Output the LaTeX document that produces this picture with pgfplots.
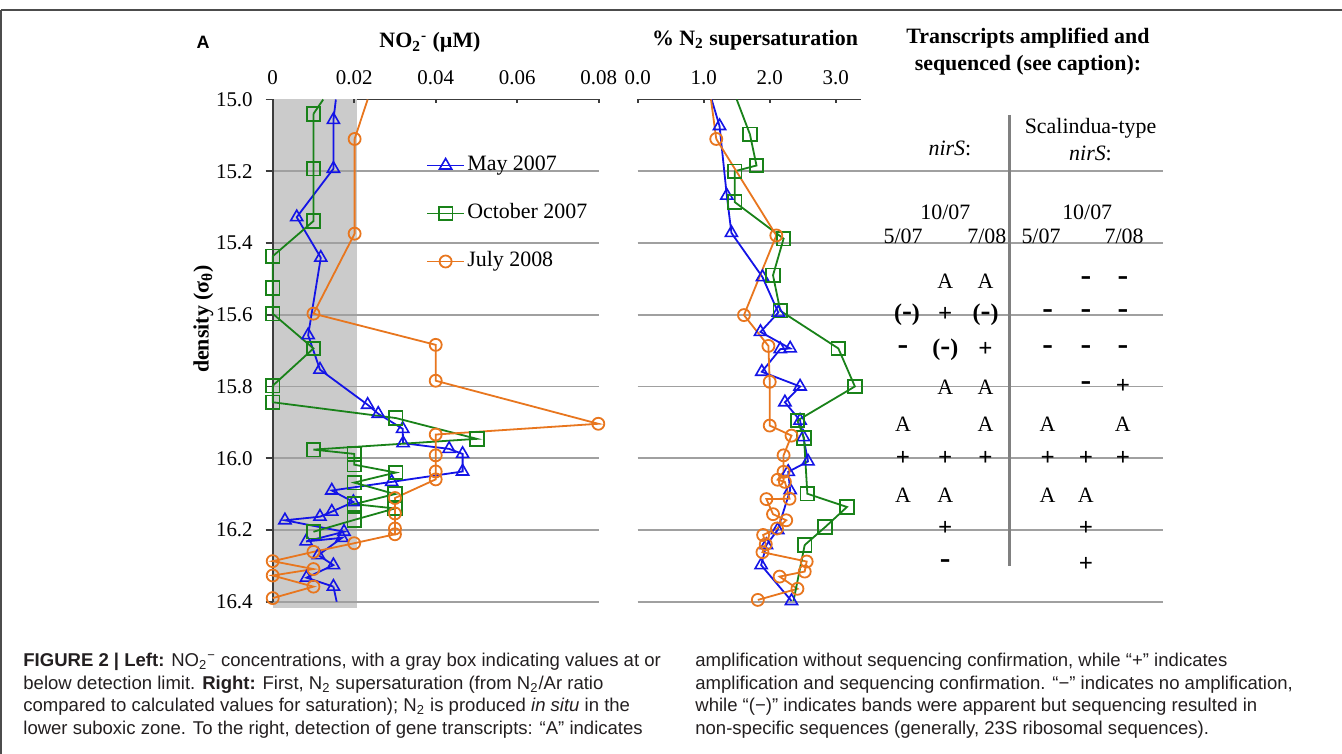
\documentclass[border=0pt]{standalone}
\usepackage{pgfplots}
\pgfplotsset{compat=1.18}
\usepackage{fontspec}
\setmainfont{Liberation Serif}
\newfontfamily\capfont{Liberation Sans}
\definecolor{nblue}{RGB}{20,20,230}
\definecolor{ngreen}{RGB}{25,130,25}
\definecolor{norange}{RGB}{232,118,30}
\definecolor{gbox}{RGB}{203,203,203}
\definecolor{gline}{RGB}{160,160,160}
\definecolor{axl}{RGB}{60,60,60}
\definecolor{captxt}{RGB}{35,31,32}
\pgfplotsset{
  sblue/.style={nblue, line width=0.9bp, mark=triangle, mark size=3.5bp, mark options={solid, line width=0.8bp, fill=white}},
  sgreen/.style={ngreen, line width=0.9bp, mark=square, mark size=3.4bp, mark options={solid, line width=0.9bp, fill=white}},
  sorange/.style={norange, line width=0.9bp, mark=o, mark size=3bp, mark options={solid, line width=0.9bp, fill=white}},
  tail/.style={line width=0.9bp, no marks, forget plot},
  panel/.style={
    scale only axis, height=251.1bp, ymin=15, ymax=16.4, y dir=reverse, clip=false,
    axis x line*=top,
    axis line style={line width=0.9bp, axl},
    xtick style={draw=none},
    scaled x ticks=false,
    ticklabel style={font=\fontsize{10.5}{12}\selectfont},
    /pgf/number format/assume math mode=true,
  },
}
\newcommand{\mi}{\textbf{\fontsize{16}{16}\selectfont -}}
\newcommand{\pmi}{\textbf{\fontsize{12}{12}\selectfont (\fontsize{15}{15}\selectfont-\fontsize{12}{12}\selectfont)}}
\newcommand{\pl}{\textbf{\fontsize{12.5}{13}\selectfont +}}
\begin{document}
\begin{tikzpicture}
\useasboundingbox (0,0) rectangle (671bp,377bp);
\fill[white] (0,0) rectangle (671bp,377bp);

% ---------------- left panel: NO2- ----------------
\begin{axis}[panel,
  at={(136.35bp,76.15bp)}, anchor=south west, width=163bp,
  xmin=0, xmax=0.08,
  axis y line*=left,
  xtick={0,0.02,0.04,0.06,0.08}, xticklabels={0,0.02,0.04,0.06,0.08},
  ytick={15,15.2,15.4,15.6,15.8,16.0,16.2,16.4},
  yticklabels={15.0,15.2,15.4,15.6,15.8,16.0,16.2,16.4},
  ytick style={line width=0.9bp, axl},
  tick align=center, major tick length=7bp,
  yticklabel style={xshift=-3bp},
  xticklabel style={yshift=0.5bp},
  legend cell align=left,
  legend style={draw=none, fill=none, at={(axis cs:0.0376,15.155)}, anchor=north west,
    font=\fontsize{11}{13}\selectfont, row sep=14bp, inner sep=0pt,
    nodes={inner sep=0pt, text height=7.5bp, text depth=2.5bp}, column sep=1.2bp},
  legend image code/.code={\draw[mark repeat=2,mark phase=2,#1] plot coordinates {(0bp,0bp)(9.2bp,0bp)(18.4bp,0bp)};},
]
\fill[gbox] (axis cs:0,15) rectangle (axis cs:0.0206,16.418);
\pgfplotsinvokeforeach{15.2,15.4,15.6,15.8,16.0,16.2,16.4}{\draw[gline, line width=0.8bp] (axis cs:0,#1) -- (axis cs:0.08,#1);}
\draw[axl, line width=0.9bp] (axis cs:0,15) -- (axis cs:0,16.4);
\pgfplotsinvokeforeach{0,0.02,0.04,0.06,0.08}{\draw[axl, line width=0.9bp] (axis cs:#1,15) -- (axis cs:#1,15.011);}
% May 2007
\addplot[sblue] coordinates {
(0.0149,15.057) (0.0149,15.193) (0.0059,15.328) (0.0118,15.441) (0.0087,15.657)
(0.0116,15.753) (0.0233,15.851) (0.0259,15.876) (0.0319,15.918) (0.0320,15.958)
(0.0433,15.974) (0.0466,15.988) (0.0466,16.037) (0.0292,16.066) (0.0145,16.090)
(0.0198,16.122) (0.0145,16.149) (0.0116,16.163) (0.0030,16.173) (0.0175,16.205)
(0.0082,16.232) (0.0170,16.222) (0.0112,16.270) (0.0149,16.298) (0.0083,16.333)
(0.0149,16.358)};
\addlegendentry{May 2007}
% October 2007
\addplot[sgreen] coordinates {
(0.0100,15.040) (0.0100,15.193) (0.0100,15.339) (0.0000,15.437) (0.0000,15.525)
(0.0000,15.597) (0.0100,15.694) (0.0000,15.798) (0.0000,15.844) (0.0302,15.888)
(0.0501,15.946) (0.0100,15.976) (0.0200,15.988) (0.0200,16.018) (0.0302,16.040)
(0.0200,16.068) (0.0300,16.100) (0.0200,16.128) (0.0300,16.140) (0.0200,16.172)
(0.0100,16.205)};
\addlegendentry{October 2007}
% July 2008
\addplot[sorange] coordinates {
(0.0201,15.110) (0.0201,15.374) (0.0100,15.597) (0.0400,15.684) (0.0400,15.784)
(0.0799,15.904) (0.0400,15.934) (0.0400,15.992) (0.0400,16.037) (0.0400,16.059)
(0.0300,16.111) (0.0300,16.154) (0.0300,16.196) (0.0300,16.212) (0.0200,16.237)
(0.0100,16.261) (0.0000,16.287) (0.0100,16.309) (0.0000,16.327) (0.0100,16.358)
(0.0000,16.390)};
\addlegendentry{July 2008}
\addplot[tail, nblue] coordinates {(0.0155,15.0) (0.0149,15.057)};
\addplot[tail, nblue] coordinates {(0.0149,16.358) (0.0157,16.40)};
\addplot[tail, ngreen] coordinates {(0.0124,15.0) (0.0100,15.040)};
\addplot[tail, norange] coordinates {(0.0233,15.0) (0.0201,15.110)};
\end{axis}

% ---------------- middle panel: N2 supersaturation ----------------
\begin{axis}[panel,
  at={(318.85bp,76.15bp)}, anchor=south west, width=111.65bp,
  xmin=0, xmax=3.383,
  axis y line=none, ytick=\empty,
  xtick={0,1,2,3}, xticklabels={0.0,1.0,2.0,3.0},
  tick align=center, major tick length=7bp,
  xticklabel style={yshift=0.5bp},
]
\pgfplotsinvokeforeach{15.2,15.4,15.6,15.8,16.0,16.2,16.4}{\draw[gline, line width=0.8bp] (axis cs:0,#1) -- (axis cs:7.96,#1);}
\pgfplotsinvokeforeach{0,1,2,3}{\draw[axl, line width=0.9bp] (axis cs:#1,15) -- (axis cs:#1,15.011);}
\draw[gline!80!black, line width=1.5bp] (axis cs:5.626,15.043) -- (axis cs:5.626,16.301);
\addplot[sblue] coordinates {
(1.24,15.074) (1.35,15.268) (1.42,15.372) (1.89,15.495) (2.13,15.594)
(1.86,15.648) (2.31,15.694) (2.16,15.696) (1.88,15.759) (2.46,15.800)
(2.23,15.844) (2.46,15.895) (2.51,15.941) (2.58,16.009) (2.28,16.038)
(2.31,16.089) (2.12,16.200) (1.95,16.242) (1.87,16.298) (2.33,16.398)};
\addplot[sgreen] coordinates {
(1.70,15.097) (1.80,15.184) (1.47,15.200) (1.47,15.286) (2.21,15.388)
(2.05,15.490) (2.16,15.589) (3.04,15.694) (3.29,15.800) (2.42,15.895)
(2.52,15.944) (2.57,16.099) (3.17,16.136) (2.84,16.192) (2.53,16.242)};
\addplot[sorange] coordinates {
(1.19,15.110) (2.10,15.379) (1.61,15.601) (1.98,15.687) (2.00,15.787)
(2.00,15.909) (2.33,15.937) (2.21,15.992) (2.21,16.038) (2.12,16.060)
(2.23,16.066) (2.30,16.113) (1.95,16.114) (2.05,16.156) (2.25,16.173)
(2.11,16.196) (1.90,16.214) (1.94,16.240) (1.89,16.262) (2.56,16.288)
(2.53,16.316) (2.15,16.330) (2.42,16.364) (1.82,16.395)};
\addplot[tail, nblue] coordinates {(1.12,15.0) (1.24,15.074)};
\addplot[tail, ngreen] coordinates {(1.50,15.0) (1.70,15.097)};
\addplot[tail, ngreen] coordinates {(2.53,16.242) (2.36,16.398)};
\addplot[tail, norange] coordinates {(1.11,15.0) (1.19,15.110)};
% ---- transcript table ----
\begin{scope}[every node/.style={font=\fontsize{11}{13}\selectfont, inner sep=0pt}]
\node at (axis cs:4.73,15.135) {\textit{nirS}:};
\node at (axis cs:6.86,15.079) {Scalindua-type};
\node at (axis cs:6.86,15.149) {\textit{nirS}:};
\node at (axis cs:4.66,15.315) {10/07};
\node at (axis cs:6.81,15.315) {10/07};
\node at (axis cs:4.02,15.382) {5/07};
\node at (axis cs:5.29,15.382) {7/08};
\node at (axis cs:6.11,15.382) {5/07};
\node at (axis cs:7.37,15.382) {7/08};
% row 15.5
\node at (axis cs:4.66,15.506) {A}; \node at (axis cs:5.27,15.506) {A};
\node at (axis cs:6.79,15.506) {\mi}; \node at (axis cs:7.35,15.506) {\mi};
% row 15.6
\node at (axis cs:4.08,15.599) {\pmi}; \node at (axis cs:4.66,15.599) {\pl}; \node at (axis cs:5.27,15.599) {\pmi};
\node at (axis cs:6.21,15.599) {\mi}; \node at (axis cs:6.79,15.599) {\mi}; \node at (axis cs:7.35,15.599) {\mi};
% row 15.7
\node at (axis cs:4.02,15.698) {\mi}; \node at (axis cs:4.66,15.698) {\pmi}; \node at (axis cs:5.27,15.698) {\pl};
\node at (axis cs:6.21,15.698) {\mi}; \node at (axis cs:6.79,15.698) {\mi}; \node at (axis cs:7.35,15.698) {\mi};
% row 15.8
\node at (axis cs:4.66,15.802) {A}; \node at (axis cs:5.27,15.802) {A};
\node at (axis cs:6.79,15.800) {\mi}; \node at (axis cs:7.35,15.800) {\pl};
% row 15.9
\node at (axis cs:4.02,15.904) {A}; \node at (axis cs:5.27,15.906) {A};
\node at (axis cs:6.21,15.904) {A}; \node at (axis cs:7.35,15.906) {A};
% row 16.0
\node at (axis cs:4.02,16.0) {\pl}; \node at (axis cs:4.66,16.0) {\pl}; \node at (axis cs:5.27,16.0) {\pl};
\node at (axis cs:6.21,16.0) {\pl}; \node at (axis cs:6.79,16.0) {\pl}; \node at (axis cs:7.35,16.0) {\pl};
% row 16.1
\node at (axis cs:4.02,16.103) {A}; \node at (axis cs:4.66,16.103) {A};
\node at (axis cs:6.21,16.103) {A}; \node at (axis cs:6.79,16.103) {A};
% row 16.2
\node at (axis cs:4.66,16.196) {\pl}; \node at (axis cs:6.79,16.196) {\pl};
% row 16.3
\node at (axis cs:4.66,16.295) {\mi}; \node at (axis cs:6.79,16.295) {\pl};
\end{scope}
\end{axis}

% ---------------- texts in pixel coordinates ----------------
\begin{scope}[shift={(0,377bp)}, x=0.5bp, y=-0.5bp]
\draw[black!70, line width=0.6bp] (1,10) -- (1342,10);
\draw[black!70, line width=0.6bp] (1,10) -- (1,754);
\node[font=\capfont\bfseries\fontsize{9}{10}\selectfont] at (203,42) {A};
\node[font=\bfseries\fontsize{11}{13}\selectfont] at (430,42.7) {NO\textsubscript{2}\textsuperscript{-} (µM)};
\node[font=\bfseries\fontsize{11}{13}\selectfont] at (755,40) {\% N\textsubscript{2} supersaturation};
\node[font=\bfseries\fontsize{11}{13}\selectfont] at (1028,38) {Transcripts amplified and};
\node[font=\bfseries\fontsize{11}{13}\selectfont] at (1028,65) {sequenced (see caption):};
\node[font=\bfseries\fontsize{11}{13}\selectfont, rotate=90] at (203.5,319) {density (σ\textsubscript{θ})};
\begin{scope}[every node/.style={anchor=base west, inner sep=0pt, text height=6.5bp, text depth=1.5bp, text=captxt, font=\capfont\fontsize{9.3}{11}\selectfont}]
\node at (23,667) {\textbf{FIGURE 2 | Left:} NO\textsubscript{2}\textsuperscript{−} concentrations, with a gray box indicating values at or};
\node at (23,689.5) {below detection limit. \textbf{Right:} First, N\textsubscript{2} supersaturation (from N\textsubscript{2}/Ar ratio};
\node at (23,712) {compared to calculated values for saturation); N\textsubscript{2} is produced \textit{in situ} in the};
\node at (23,734.5) {lower suboxic zone. To the right, detection of gene transcripts: “A” indicates};
\node at (695,667) {amplification without sequencing confirmation, while “+” indicates};
\node at (695,689.5) {amplification and sequencing confirmation. “−” indicates no amplification,};
\node at (695,712) {while “(−)” indicates bands were apparent but sequencing resulted in};
\node at (695,734.5) {non-specific sequences (generally, 23S ribosomal sequences).};
\end{scope}
\end{scope}
\end{tikzpicture}
\end{document}
